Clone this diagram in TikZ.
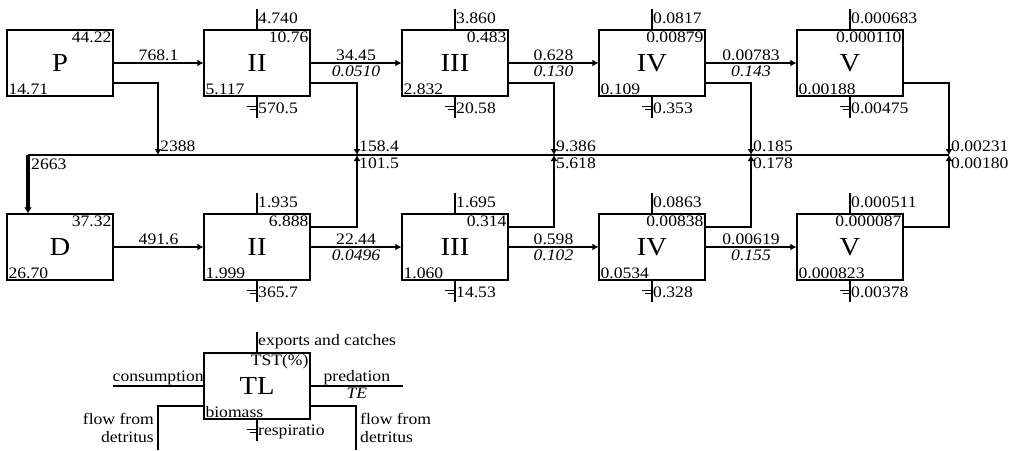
\documentclass[tikz,border=0pt]{standalone}
\usepackage{fontspec}
\setmainfont{Liberation Serif}[FakeStretch=1.1]
\usetikzlibrary{arrows.meta}
\tikzset{
 box/.style={draw, line width=1.3pt, minimum width=106pt, minimum height=66pt, inner sep=0pt, font=\fontsize{26}{26}\selectfont},
 lab/.style={inner sep=1pt, font=\fontsize{16}{18}\selectfont},
 ilab/.style={inner sep=1pt, font=\fontsize{16}{18}\selectfont\itshape},
 stubline/.style={line width=1.2pt},
 flow/.style={line width=2.9pt, -{Latex[length=6pt,width=7pt]}},
 hline/.style={line width=2.2pt},
 detin/.style={line width=2.9pt, -{Latex[length=6pt,width=7pt]}},
 dbig/.style={line width=3.6pt, -{Latex[length=6pt,width=8pt]}},
}
\newcommand\tbox[6]{%
 \node[box] (#1) at (#2,#3) {#4};
 \node[lab, anchor=north east] (#1tr) at ([xshift=-1pt,yshift=-1pt]#1.north east) {#5};
 \node[lab, anchor=south west] (#1bl) at ([xshift=1pt,yshift=1pt]#1.south west) {#6};}
\newcommand\tstubs[3]{%
 \coordinate (#1t) at ([yshift=20pt]#1.north);
 \draw[stubline] (#1.north) -- (#1t);
 \node[lab, anchor=west] (#1tl) at ([yshift=-9pt]#1t) {#2};
 \coordinate (#1b) at ([yshift=-21pt]#1.south);
 \draw[stubline] (#1.south) -- (#1b);
 \draw[stubline] ([yshift=-10pt]#1.south) -- ++(-10,0);
 \draw[stubline] ([yshift=-12.5pt]#1.south) -- ++(-7,0);
 \node[lab, anchor=west] (#1bs) at ([yshift=-12pt]#1.south) {#3};}
\begin{document}
\begin{tikzpicture}[x=1pt,y=-1pt]
\useasboundingbox (0,0) rectangle (1014,450);
% top row
\tbox{P}{60}{63}{P}{44.22}{14.71}
\tbox{IIa}{257}{63}{II}{10.76}{5.117}
\tbox{IIIa}{455}{63}{III}{0.483}{2.832}
\tbox{IVa}{652}{63}{IV}{0.00879}{0.109}
\tbox{Va}{850}{63}{V}{0.000110}{0.00188}
\tstubs{IIa}{4.740}{570.5}
\tstubs{IIIa}{3.860}{20.58}
\tstubs{IVa}{0.0817}{0.353}
\tstubs{Va}{0.000683}{0.00475}
% bottom row
\tbox{D}{60}{247}{D}{37.32}{26.70}
\tbox{IIb}{257}{247}{II}{6.888}{1.999}
\tbox{IIIb}{455}{247}{III}{0.314}{1.060}
\tbox{IVb}{652}{247}{IV}{0.00838}{0.0534}
\tbox{Vb}{850}{247}{V}{0.000087}{0.000823}
\tstubs{IIb}{1.935}{365.7}
\tstubs{IIIb}{1.695}{14.53}
\tstubs{IVb}{0.0863}{0.328}
\tstubs{Vb}{0.000511}{0.00378}
% flows top
\draw[flow] (P.east) -- (IIa.west) node[midway, above, lab] (f1) {768.1};
\draw[flow] (IIa.east) -- (IIIa.west) node[midway, above, lab] (f2) {34.45} node[midway, below, ilab] (f2i) {0.0510};
\draw[flow] (IIIa.east) -- (IVa.west) node[midway, above, lab] (f3) {0.628} node[midway, below, ilab] (f3i) {0.130};
\draw[flow] (IVa.east) -- (Va.west) node[midway, above, lab] (f4) {0.00783} node[midway, below, ilab] (f4i) {0.143};
% flows bottom
\draw[flow] (D.east) -- (IIb.west) node[midway, above, lab] (g1) {491.6};
\draw[flow] (IIb.east) -- (IIIb.west) node[midway, above, lab] (g2) {22.44} node[midway, below, ilab] (g2i) {0.0496};
\draw[flow] (IIIb.east) -- (IVb.west) node[midway, above, lab] (g3) {0.598} node[midway, below, ilab] (g3i) {0.102};
\draw[flow] (IVb.east) -- (Vb.west) node[midway, above, lab] (g4) {0.00619} node[midway, below, ilab] (g4i) {0.155};
% detritus junctions
\coordinate (jD) at (28,155);
\coordinate (jP) at (158,155);
\coordinate (jII) at (357,155);
\coordinate (jIII) at (554,155);
\coordinate (jIV) at (751,155);
\coordinate (jV) at (949,155);
\draw[hline] (jD) -- (jV);
\draw[dbig] (jD) -- (jD |- D.north);
\draw[detin] ([yshift=-20pt]P.east) -| (jP);
\draw[detin] ([yshift=-20pt]IIa.east) -| (jII);
\draw[detin] ([yshift=-20pt]IIIa.east) -| (jIII);
\draw[detin] ([yshift=-20pt]IVa.east) -| (jIV);
\draw[detin] ([yshift=-20pt]Va.east) -| (jV);
\draw[detin] ([yshift=20pt]IIb.east) -| (jII);
\draw[detin] ([yshift=20pt]IIIb.east) -| (jIII);
\draw[detin] ([yshift=20pt]IVb.east) -| (jIV);
\draw[detin] ([yshift=20pt]Vb.east) -| (jV);
\node[lab, anchor=south west] (lP) at ([xshift=1pt,yshift=2pt]jP) {2388};
\node[lab, anchor=north west] (lD) at ([xshift=2pt,yshift=-3pt]jD) {2663};
\node[lab, anchor=south west] (lIIa) at ([xshift=1pt,yshift=2pt]jII) {158.4};
\node[lab, anchor=north west] (lIIb) at ([xshift=1pt,yshift=-2pt]jII) {101.5};
\node[lab, anchor=south west] (lIIIa) at ([xshift=1pt,yshift=2pt]jIII) {9.386};
\node[lab, anchor=north west] (lIIIb) at ([xshift=1pt,yshift=-2pt]jIII) {5.618};
\node[lab, anchor=south west] (lIVa) at ([xshift=1pt,yshift=2pt]jIV) {0.185};
\node[lab, anchor=north west] (lIVb) at ([xshift=1pt,yshift=-2pt]jIV) {0.178};
\node[lab, anchor=south west] (lVa) at ([xshift=1pt,yshift=2pt]jV) {0.00231};
\node[lab, anchor=north west] (lVb) at ([xshift=1pt,yshift=-2pt]jV) {0.00180};
% legend
\tbox{TL}{257}{386}{TL}{TST(\%)}{biomass}
\tstubs{TL}{exports and catches}{respiratio}
\coordinate (cL) at (113,386);
\coordinate (cR) at (403,386);
\coordinate (dL) at (158,450);
\coordinate (dR) at (356,450);
\draw[stubline] (cL) -- (TL.west) node[midway, above, lab] (lcons) {consumption};
\draw[stubline] (TL.east) -- (cR) node[midway, above, lab] (lpred) {predation} node[midway, below, ilab] (lte) {TE};
\draw[stubline] ([yshift=-20pt]TL.west) -| (dL);
\draw[stubline] ([yshift=-20pt]TL.east) -| (dR);
\node[lab, anchor=east, align=right] (lfl) at (155,428) {flow from\\detritus};
\node[lab, anchor=west, align=left] (lfr) at (359,428) {flow from\\detritus};
\end{tikzpicture}
\end{document}
